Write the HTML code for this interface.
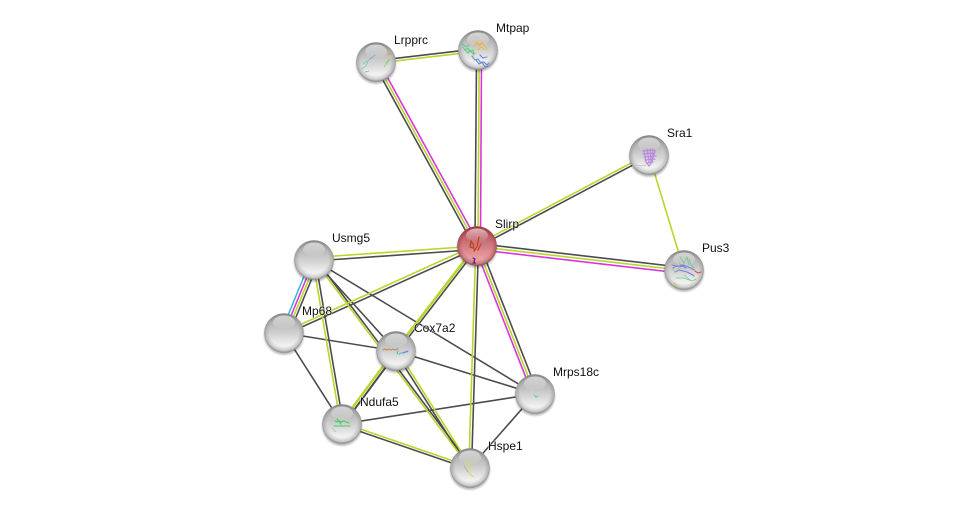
<!DOCTYPE html>
<html>
<head>
<meta charset="utf-8">
<title>Slirp network</title>
<style>
html,body{margin:0;padding:0;background:#fff;width:975px;height:513px;overflow:hidden}
svg{display:block}
text{font-family:"Liberation Sans",Arial,sans-serif;font-size:12px;fill:#111;stroke:#fff;stroke-opacity:.5;stroke-width:1.6px;paint-order:stroke;stroke-linejoin:round}
.k line{stroke:#4c4c4c}
.y line{stroke:#b8d62c}
.m line{stroke:#d935d9}
.b line{stroke:#38b8de}
line{stroke-width:1.6}
.st{fill:none;stroke-width:.7;stroke-linecap:round}
</style>
</head>
<body>
<svg width="975" height="513" viewBox="0 0 975 513" xmlns="http://www.w3.org/2000/svg">
<defs>
<linearGradient id="g" x1="0" y1="0" x2="0" y2="1">
<stop offset="0" stop-color="#8e8e8e"/><stop offset=".22" stop-color="#b4b4b4"/><stop offset=".5" stop-color="#d0d0d0"/><stop offset=".78" stop-color="#eeeeee"/><stop offset="1" stop-color="#f8f8f8"/>
</linearGradient>
<linearGradient id="r" x1="0" y1="0" x2="0" y2="1">
<stop offset="0" stop-color="#a83e46"/><stop offset=".3" stop-color="#c4646c"/><stop offset=".65" stop-color="#e08c90"/><stop offset="1" stop-color="#f2b4b4"/>
</linearGradient>
<radialGradient id="rim" cx=".5" cy=".47" r=".55">
<stop offset="0" stop-color="#666" stop-opacity="0"/><stop offset=".68" stop-color="#666" stop-opacity="0"/><stop offset=".86" stop-color="#666" stop-opacity=".3"/><stop offset="1" stop-color="#4a4a4a" stop-opacity=".9"/>
</radialGradient>
<radialGradient id="rimr" cx=".5" cy=".47" r=".55">
<stop offset="0" stop-color="#6a1c22" stop-opacity="0"/><stop offset=".68" stop-color="#6a1c22" stop-opacity="0"/><stop offset=".86" stop-color="#6a1c22" stop-opacity=".3"/><stop offset="1" stop-color="#5a1418" stop-opacity=".9"/>
</radialGradient>
<linearGradient id="hl" x1="0" y1="0" x2="0" y2="1">
<stop offset="0" stop-color="#fff" stop-opacity=".6"/><stop offset="1" stop-color="#fff" stop-opacity="0"/>
</linearGradient>
<radialGradient id="sh" cx=".5" cy=".5" r=".5">
<stop offset=".8" stop-color="#000" stop-opacity=".4"/><stop offset="1" stop-color="#000" stop-opacity="0"/>
</radialGradient>
<g id="ball">
<circle cx="0" cy="1.8" r="21.4" fill="url(#sh)"/>
<circle r="19.8" fill="url(#g)"/>
<circle r="19.8" fill="url(#rim)"/>
<ellipse cx="0" cy="-10.5" rx="11" ry="7" fill="url(#hl)"/>
</g>
<g id="ballr">
<circle cx="0" cy="1.8" r="21.4" fill="url(#sh)"/>
<circle r="19.8" fill="url(#r)"/>
<circle r="19.8" fill="url(#rimr)"/>
<ellipse cx="0" cy="-10.5" rx="11" ry="7" fill="url(#hl)"/>
</g>
</defs>

<g class="k">
<line x1="376" y1="60.7" x2="478" y2="48.7"/>
<line x1="373.7" y1="63.25" x2="474.7" y2="247.25"/>
<line x1="476.5" y1="60" x2="475" y2="240"/>
<line x1="649.6" y1="156.15" x2="477.6" y2="247.15"/>
<line x1="477" y1="243.5" x2="684" y2="267.5"/>
<line x1="314" y1="261" x2="477" y2="249.5"/>
<line x1="284" y1="335" x2="477" y2="248"/>
<line x1="319.4" y1="260" x2="289.5" y2="333"/>
<line x1="315.3" y1="259.8" x2="343.3" y2="423.8"/>
<line x1="314" y1="260" x2="396" y2="351"/>
<line x1="316.5" y1="260" x2="472.5" y2="468"/>
<line x1="394.7" y1="351" x2="468.7" y2="468"/>
<line x1="314" y1="260" x2="535" y2="394"/>
<line x1="284" y1="333" x2="396" y2="351"/>
<line x1="284" y1="333" x2="342" y2="424"/>
<line x1="396" y1="351" x2="535" y2="394"/>
<line x1="342" y1="424" x2="535" y2="394"/>
<line x1="535" y1="394" x2="470" y2="468"/>
<line x1="342" y1="425.3" x2="470" y2="469.3"/>
<line x1="478.5" y1="246" x2="471.5" y2="468"/>
<line x1="479.8" y1="244.9" x2="537.8" y2="392.9"/>
<line x1="397.2" y1="352" x2="478.2" y2="247"/>
<line x1="397.7" y1="351" x2="343.7" y2="424" style="stroke-width:2"/>
</g>
<g class="y">
<line x1="376" y1="63.3" x2="478" y2="51.3"/>
<line x1="376" y1="62" x2="477" y2="246"/>
<line x1="479.2" y1="60" x2="478" y2="240"/>
<line x1="648.4" y1="153.85" x2="476.4" y2="244.85"/>
<line x1="649" y1="155" x2="684" y2="270"/>
<line x1="477" y1="246.5" x2="684" y2="270.5"/>
<line x1="314" y1="257.5" x2="477" y2="246"/>
<line x1="284" y1="332" x2="477" y2="244.5"/>
<line x1="316.7" y1="260" x2="286.8" y2="333"/>
<line x1="312.7" y1="260.2" x2="340.7" y2="424.2"/>
<line x1="314" y1="260" x2="470" y2="468"/>
<line x1="397.5" y1="351" x2="471.5" y2="468"/>
<line x1="342" y1="422.7" x2="470" y2="466.7"/>
<line x1="475.8" y1="246" x2="468.8" y2="468"/>
<line x1="477" y1="246" x2="535" y2="394"/>
<line x1="395.2" y1="350.4" x2="476.2" y2="245.4" style="stroke-width:2.6"/>
<line x1="394.3" y1="351" x2="340.3" y2="424" style="stroke-width:2.4"/>
</g>
<g class="m">
<line x1="378.3" y1="60.75" x2="479.3" y2="244.75"/>
<line x1="481.5" y1="60" x2="480.5" y2="240"/>
<line x1="477" y1="249.5" x2="684" y2="273.5"/>
<line x1="313.9" y1="260" x2="284" y2="333"/>
<line x1="474.7" y1="246.9" x2="532.7" y2="394.9"/>
</g>
<g class="b">
<line x1="310.7" y1="260" x2="280.8" y2="333"/>
</g>

<use href="#ball" x="376" y="62"/>
<use href="#ball" x="478" y="50"/>
<use href="#ball" x="649" y="155"/>
<use href="#ball" x="684" y="270"/>
<use href="#ball" x="314" y="260"/>
<use href="#ball" x="284" y="333"/>
<use href="#ball" x="396" y="351"/>
<use href="#ball" x="535" y="394"/>
<use href="#ball" x="342" y="424"/>
<use href="#ball" x="470" y="468"/>
<use href="#ballr" x="477" y="246"/>

<!-- protein structure insets -->
<g class="st">
<path d="M362 69l4-3 2-4M363 64l6-4 3-3M365 72l4-1" stroke="#5cc6c8"/><path d="M370 59l5-4" stroke="#7a92e0"/>
<path d="M384 67l3-5 3-3M386 64l4-5" stroke="#8ed04a"/><path d="M387 55l5-1M388 53l4 0" stroke="#e0a060"/>
<path d="M463 47l2 3 3-2 2 4 3-2 1 5M465 50l3 3 2-3 3 4 2-1M462 44l4 3 3-2" stroke="#66cc88" stroke-width="1.1"/>
<path d="M472 56l3 4 3-1 3 4 3-1 3 3 2-2M476 60l3 4 3-2 3 5 3-1M480 55l3 3 4-1" stroke="#6a88dd" stroke-width="1.1"/>
<path d="M474 46l3-3 2 3 3-3 3 3 2 4M478 50l3-3 3 2M476 42l3 2 4-2" stroke="#e8b84c" stroke-width="1.1"/>
<path d="M470 36l6-2 5 1M480 38l5 2" stroke="#eecccc"/>
<path d="M644 150l2 12 3 4 3-4 3-12M647 149l2 13M650 149l1 13M653 149l-1 12M643 151l12-1M643 154l12-1M644 157l12-1M645 160l10-1M647 163l6-1" stroke="#b98ae0" stroke-width="1.2"/>
<path d="M636 165l6 1 4-1" stroke="#bbb"/>
<path d="M673 268l3-2 4 1 3-2 5 2 3 1 3 2M675 272l4-2 4 1 4 1 4 2 3 2M672 265l5 1 4-1 5 3" stroke="#6c86dd" stroke-width="1.1"/>
<path d="M680 257l4 6 3-6 2 8M676 278l8 0 8 3 4-2M689 259l2 6 3 3M684 275l6 5" stroke="#66cc88"/>
<path d="M674 263l5 3M680 262l-2 9M672 269l4 3" stroke="#c9b08a"/><path d="M695 271l3 2 3-1" stroke="#e05040" stroke-width="1.1"/><path d="M674 283l3 3" stroke="#c8cc40" stroke-width="1.1"/>
<path d="M383 350l2-1 2 1 2-1 2 1 2-1 2 1 2-1 1 0" stroke="#c09050" stroke-width="1.2"/>
<path d="M397 354l1-3M399 354l2-1 2 0 2-1 2 0" stroke="#48c0c8" stroke-width="1.1"/><path d="M403 353l5-2" stroke="#5a8ae0" stroke-width="1.1"/>
<path d="M335 421l2 1 2-1 2 1 3-1 2 1 3 1M334 426l5 0 5 0 6 0M337 419l4 5" stroke="#44d058" stroke-width="1.1"/>
<path d="M332 428l4 4" stroke="#bbb"/>
<path d="M534 395l2 2 2-1" stroke="#66cc99" stroke-width="1"/><path d="M531 390l2 3" stroke="#ccd8cc"/>
<path d="M465 462l5 3 4-3M470 465l0 6M467 470l4 5 3 2" stroke="#d8d860" stroke-width="1"/><path d="M464 466l4 6" stroke="#b0a878"/>
<path d="M470 247l1-6 2 3 1 5M474 251l3-4 2-10M478 250l3-6" stroke="#c84020" stroke-width="1.3"/>
<path d="M471 243l-1 4 3 1" stroke="#8a5a20" stroke-width="1.2"/>
<path d="M484 236l2 8-3 6" stroke="#999" stroke-width=".8"/>
<path d="M473 258l2 1-1 2 1 2-2 0" stroke="#5a1a9a" stroke-width="1.2"/>
</g>

<text x="394" y="44">Lrpprc</text>
<text x="496" y="32">Mtpap</text>
<text x="667" y="137">Sra1</text>
<text x="495" y="228">Slirp</text>
<text x="702" y="252">Pus3</text>
<text x="332" y="242">Usmg5</text>
<text x="302" y="315">Mp68</text>
<text x="414" y="332">Cox7a2</text>
<text x="553" y="376">Mrps18c</text>
<text x="360" y="406">Ndufa5</text>
<text x="488" y="450">Hspe1</text>
</svg>
</body>
</html>
